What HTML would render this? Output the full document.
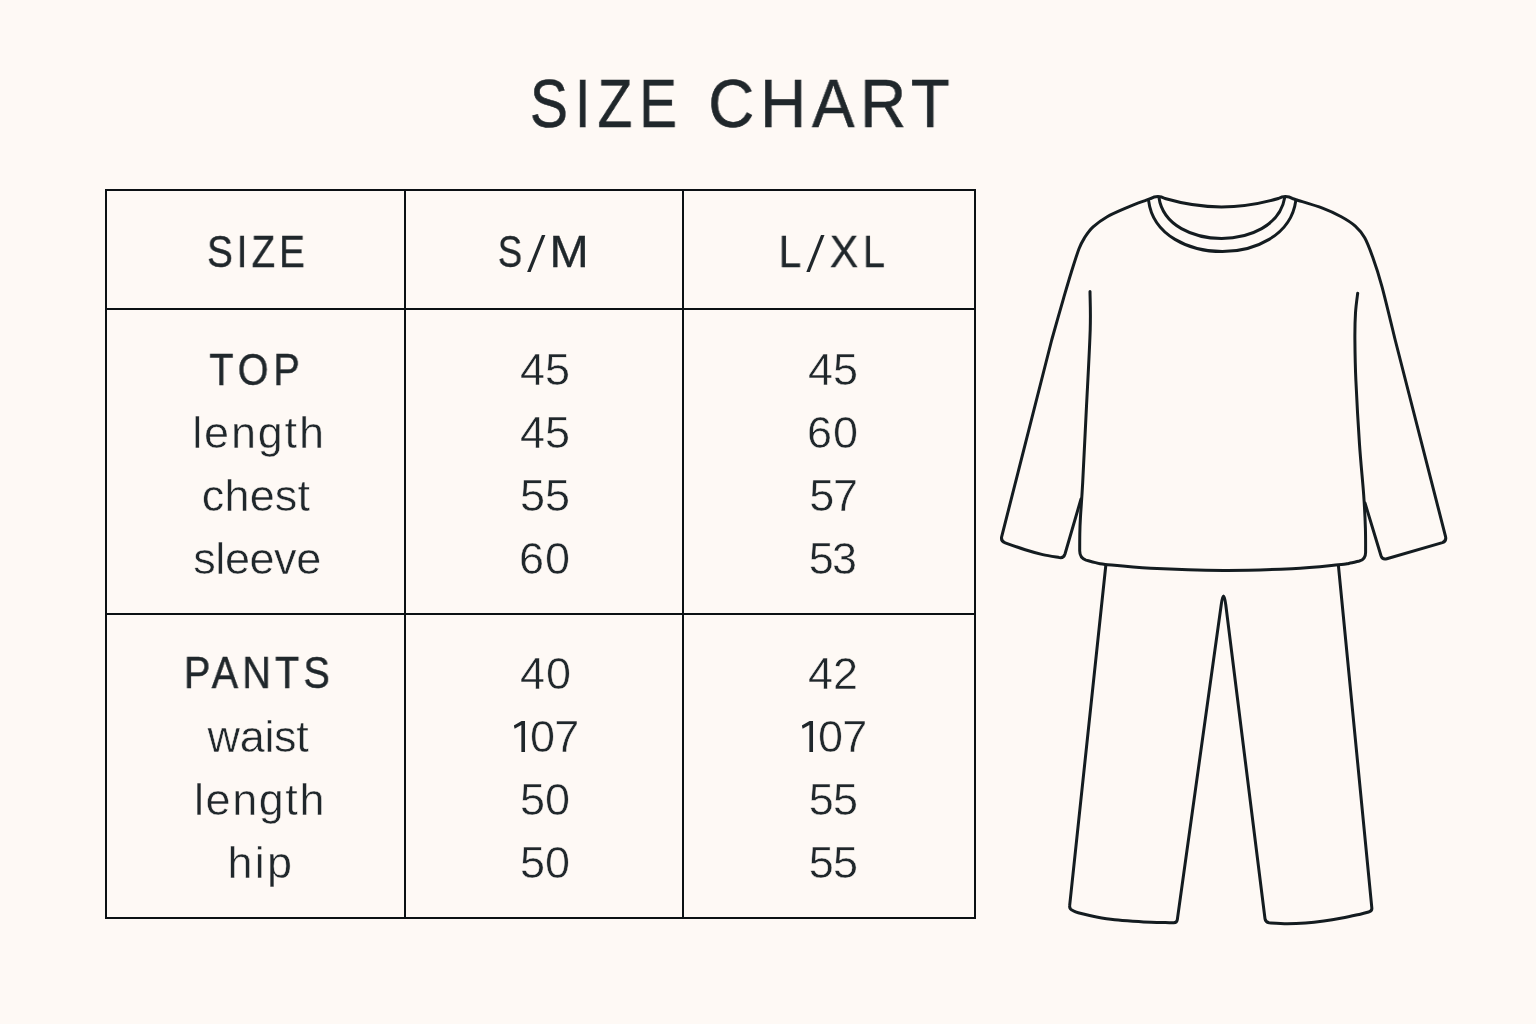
<!DOCTYPE html>
<html lang="en">
<head>
<meta charset="utf-8">
<title>Size Chart</title>
<style>
  html, body { margin: 0; padding: 0; }
  body {
    width: 1536px; height: 1024px; overflow: hidden; position: relative;
    background: #fef9f5;
    font-family: "Liberation Sans", sans-serif;
    color: #20272b;
  }
  .t {
    position: absolute; white-space: nowrap; line-height: 1;
    transform: translateX(-50%);
    font-size: 45px;
    will-change: transform;
    -webkit-text-stroke: 0.5px #fef9f5;
  }
  .b { -webkit-text-stroke: 0.45px #20272b; }
  .m { -webkit-text-stroke: 0.3px #20272b; }
  .tt { font-size: 68.4px; -webkit-text-stroke: 0.6px #20272b; }
  .ln { position: absolute; background: #0c1114; }
  svg.art, svg.sl { position: absolute; left: 0; top: 0; }
  svg.one { vertical-align: baseline; margin-right: 4.3px; fill: #20272b; stroke: none; overflow: visible; }
</style>
</head>
<body>

<!-- title -->
<div class="t tt" id="t1" style="left:607.4px; top:69px; letter-spacing:8.41px; transform:translateX(-50%) scaleX(0.83);">SIZE</div>
<div class="t tt" id="t2" style="left:832.2px; top:69px; letter-spacing:6.32px; transform:translateX(-50%) scaleX(0.93);">CHART</div>

<!-- table lines -->
<div class="ln" style="left:105px; top:189px; width:871px; height:2px;"></div>
<div class="ln" style="left:105px; top:308px; width:871px; height:2px;"></div>
<div class="ln" style="left:105px; top:613px; width:871px; height:2px;"></div>
<div class="ln" style="left:105px; top:917px; width:871px; height:2px;"></div>
<div class="ln" style="left:105px; top:189px; width:2px; height:730px;"></div>
<div class="ln" style="left:404px; top:189px; width:2px; height:730px;"></div>
<div class="ln" style="left:682px; top:189px; width:2px; height:730px;"></div>
<div class="ln" style="left:974px; top:189px; width:2px; height:730px;"></div>

<!-- header row -->
<div class="t b" id="h1" style="left:258.0px; top:229.0px; letter-spacing:4.61px; transform:translateX(-50%) scaleX(0.86);">SIZE</div>
<div class="t m" id="h2a" style="left:510.1px; top:229px; transform:translateX(-50%) scaleX(0.81);">S</div>
<div class="t m" id="h2b" style="left:569.3px; top:229px; transform:translateX(-50%) scaleX(1.045);">M</div>
<div class="t m" id="h3a" style="left:789.8px; top:229px; transform:translateX(-50%) scaleX(0.9);">L</div>
<div class="t m" id="h3b" style="left:844.3px; top:229px; transform:translateX(-50%) scaleX(0.944);">X</div>
<div class="t m" id="h3c" style="left:873.6px; top:229px; transform:translateX(-50%) scaleX(0.88);">L</div>
<svg class="sl" width="1536" height="1024" viewBox="0 0 1536 1024" fill="#20272b"><path d="M541.9 235H545.4L530.6 272H527.1Z"/><path d="M821 235H824.5L809.8 272H806.3Z"/></svg>

<!-- top block, col 1 -->
<div class="t b" id="a1" style="left:256.6px; top:347.0px; letter-spacing:5.56px; transform:translateX(-50%) scaleX(0.88);">TOP</div>
<div class="t" id="a2" style="left:259.0px; top:410px; letter-spacing:1.83px;">length</div>
<div class="t" id="a3" style="left:256.0px; top:473px; letter-spacing:0.17px;">chest</div>
<div class="t" id="a4" style="left:257.0px; top:536px; letter-spacing:-0.42px;">sleeve</div>
<!-- top block, col 2 -->
<div class="t" id="b1" style="left:544.5px; top:347px; letter-spacing:0px;">45</div>
<div class="t" id="b2" style="left:544.5px; top:410px; letter-spacing:0px;">45</div>
<div class="t" id="b3" style="left:545.0px; top:473px; letter-spacing:0px;">55</div>
<div class="t" id="b4" style="left:544.5px; top:536px; letter-spacing:0.90px;">60</div>
<!-- top block, col 3 -->
<div class="t" id="c1" style="left:832.8px; top:347px; letter-spacing:0px;">45</div>
<div class="t" id="c2" style="left:832.8px; top:410px; letter-spacing:0.90px;">60</div>
<div class="t" id="c3" style="left:832.7px; top:473px; letter-spacing:-1.20px;">57</div>
<div class="t" id="c4" style="left:832.3px; top:536px; letter-spacing:-1.80px;">53</div>

<!-- pants block, col 1 -->
<div class="t b" id="d1" style="left:258.6px; top:650px; letter-spacing:4.77px; transform:translateX(-50%) scaleX(0.88);">PANTS</div>
<div class="t" id="d2" style="left:258.0px; top:714px; letter-spacing:-0.30px;">waist</div>
<div class="t" id="d3" style="left:259.5px; top:777px; letter-spacing:1.56px;">length</div>
<div class="t" id="d4" style="left:261.0px; top:840px; letter-spacing:2.25px;">hip</div>
<!-- pants block, col 2 -->
<div class="t" id="e1" style="left:545.5px; top:651px; letter-spacing:0.90px;">40</div>
<div class="t" id="e2" style="left:546.2px; top:714px; letter-spacing:-1px;"><svg class="one" width="12" height="31" viewBox="0 0 12 31"><path d="M0 4.5 L7.8 0 L11.2 0 L11.2 31 L7.55 31 L7.55 4.1 L0.8 7.8 Z"/></svg>07</div>
<div class="t" id="e3" style="left:544.8px; top:777px; letter-spacing:0px;">50</div>
<div class="t" id="e4" style="left:544.8px; top:840px; letter-spacing:0px;">50</div>
<!-- pants block, col 3 -->
<div class="t" id="f1" style="left:832.8px; top:651px; letter-spacing:0px;">42</div>
<div class="t" id="f2" style="left:834.0px; top:714px; letter-spacing:-1px;"><svg class="one" width="12" height="31" viewBox="0 0 12 31"><path d="M0 4.5 L7.8 0 L11.2 0 L11.2 31 L7.55 31 L7.55 4.1 L0.8 7.8 Z"/></svg>07</div>
<div class="t" id="f3" style="left:832.5px; top:777px; letter-spacing:-0.90px;">55</div>
<div class="t" id="f4" style="left:832.5px; top:840px; letter-spacing:-0.90px;">55</div>

<!-- illustration -->
<svg class="art" width="1536" height="1024" viewBox="0 0 1536 1024" fill="none" stroke="#141c20" stroke-width="3" stroke-linecap="round" stroke-linejoin="round">
  <path d="M1081.0 499.0 L1065.0 554.0 Q1063.6 558.4 1059.4 557.6 C1056.6 557.1 1048.4 555.9 1042.7 554.6 C1037.0 553.3 1031.5 551.8 1025.2 549.8 C1019.0 547.8 1008.5 544.0 1005.2 542.8 Q1000.6 541.2 1001.7 536.6 L1051.7 340 C1053.7 333.1 1060.1 310.1 1063.4 298.8 C1066.7 287.5 1068.7 280.5 1071.3 272.2 C1073.9 263.9 1076.8 254.5 1079.0 248.8 C1081.2 243.1 1082.2 241.5 1084.5 237.8 C1086.8 234.2 1089.3 230.4 1093.1 226.9 C1096.9 223.4 1101.5 220.0 1107.2 216.7 C1112.9 213.4 1121.0 210.1 1127.5 207.3 C1134.0 204.6 1142.5 201.6 1146.3 200.2 C1150.1 198.8 1149.8 198.9 1150.5 198.6 Q1157.8 194.4 1165 198.5 C1186 204.6 1203 206.9 1221.5 206.9 C1240 206.9 1257 204.6 1278.4 198.5 Q1285.6 194.4 1292.8 198.6 C1293.3 198.8 1291.0 198.1 1296.0 199.7 C1301.0 201.3 1315.0 205.3 1322.5 208.1 C1330.0 210.9 1335.8 213.7 1341.3 216.7 C1346.8 219.7 1351.4 222.6 1355.3 226.1 C1359.2 229.6 1361.8 232.7 1364.7 237.8 C1367.6 242.9 1369.6 248.5 1372.5 256.6 C1375.4 264.7 1378.1 272.4 1381.9 286.3 C1385.7 300.2 1393.0 331.1 1395.2 340.0 L1445.5 536.4 Q1446.7 541.0 1442.4 542.6 L1386.8 558.8 Q1382.4 560.0 1381.0 555.8 L1365.0 503.0"/>
  <path d="M1090.0 291.5 C1090.0 297.9 1090.8 310.9 1090.2 330.0 C1089.6 349.1 1087.8 380.8 1086.5 406.2 C1085.2 431.6 1083.7 464.0 1082.7 482.4 C1081.7 500.8 1081.0 507.8 1080.5 516.4 C1080.0 525.0 1079.9 528.3 1079.8 534.0 C1079.7 539.7 1079.7 547.8 1079.7 550.5 Q1079.6 557.8 1086.0 560.1 C1087.6 560.5 1092.3 561.9 1095.5 562.6 C1098.7 563.3 1096.1 563.5 1105.3 564.4 C1114.5 565.3 1131.0 567.3 1150.7 568.3 C1170.4 569.3 1199.9 570.3 1223.4 570.4 C1247.0 570.5 1272.8 569.6 1292.0 568.7 C1311.2 567.8 1328.9 565.7 1338.4 564.8 C1347.9 563.9 1345.3 564.0 1348.8 563.4 C1352.3 562.8 1357.6 561.4 1359.4 561.0 Q1365.9 559.2 1365.6 551.5 C1365.6 547.6 1365.7 537.5 1365.4 528.1 C1365.1 518.7 1364.7 509.1 1363.7 495.1 C1362.7 481.1 1360.8 463.4 1359.5 444.3 C1358.2 425.2 1356.7 398.2 1355.9 380.8 C1355.1 363.4 1355.0 351.3 1354.9 340.0 C1354.8 328.7 1355.0 320.6 1355.5 312.8 C1356.0 305.0 1357.3 296.5 1357.7 293.2"/>
  <path d="M1148.6 200.6 C1153 236 1190 251.6 1222.4 251.6 C1254 251.6 1291 236 1295.8 200.6"/>
  <path d="M1158.9 197.2 C1163 226 1194 238.4 1221.6 238.4 C1249 238.4 1280 226 1284.8 197.2"/>
  <path d="M1105.8 565.5 L1069.7 905.2 Q1069.1 909.4 1073.0 910.7 C1073.9 911.1 1074.3 911.8 1078.2 912.8 C1082.1 913.8 1090.4 915.8 1096.5 916.9 C1102.6 918.0 1108.6 919.0 1114.7 919.7 C1120.8 920.4 1126.8 920.8 1132.9 921.2 C1139.0 921.6 1145.1 922.0 1151.2 922.2 C1157.3 922.5 1165.7 922.6 1169.4 922.7 C1173.1 922.8 1172.9 922.8 1173.6 922.8 Q1176.8 922.9 1177.3 919.8 L1221.2 605 Q1223.5 587 1225.8 605 L1265.0 918.8 Q1265.5 922.2 1269.1 922.8 C1272.1 923.0 1281.2 923.7 1287.3 923.8 C1293.4 923.8 1299.5 923.5 1305.6 923.0 C1311.7 922.5 1317.7 921.8 1323.8 921.0 C1329.9 920.2 1335.9 919.2 1342.0 918.1 C1348.1 917.0 1355.8 915.2 1360.3 914.2 C1364.8 913.2 1367.7 912.2 1369.2 911.8 Q1372.3 910.9 1371.8 907.6 L1338.4 565.5"/>
</svg>

</body>
</html>
